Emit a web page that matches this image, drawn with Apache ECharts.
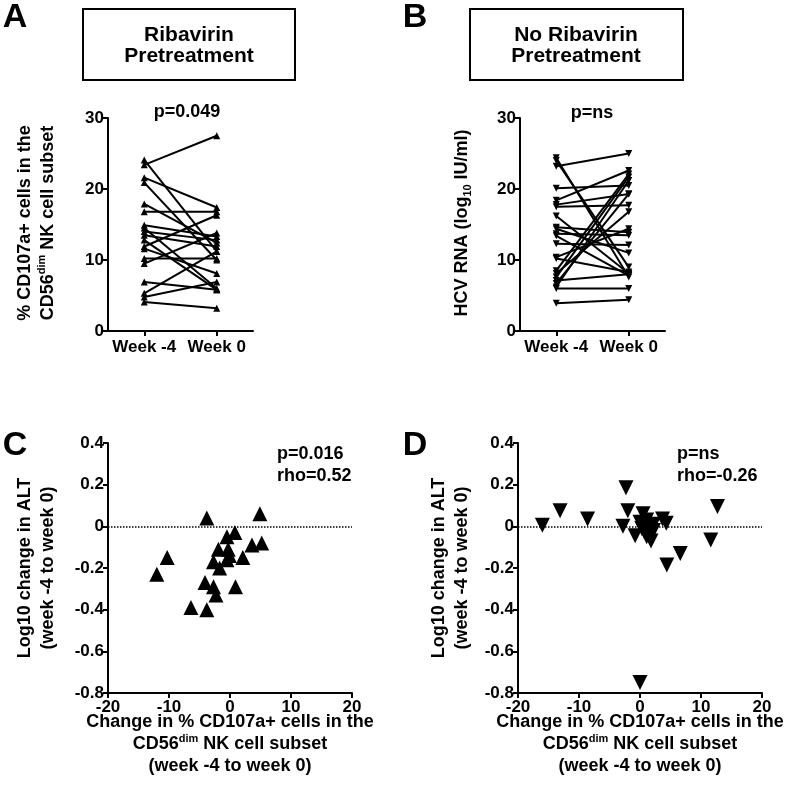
<!DOCTYPE html>
<html><head><meta charset="utf-8">
<script src="https://cdn.jsdelivr.net/npm/echarts@6/dist/echarts.min.js"></script>
<style>html,body{margin:0;padding:0;background:#fff}#c{width:800px;height:805px}</style>
</head><body><div id="c"></div>
<script>
// ---- data ----
const weekLabels = ['Week -4', 'Week 0'];
const ribaWeekM4 = [23.4, 24.1, 21.6, 20.9, 17.9, 16.8, 14.9, 14.5, 14.0, 13.5, 12.8, 11.9, 11.6, 10.2, 9.5, 6.9, 5.3, 4.8, 4.1];
const ribaWeek0  = [27.5, 11.2, 17.4, 10.0, 12.4, 16.8, 13.3, 6.0, 12.8, 11.9, 5.8, 16.3, 8.1, 10.2, 13.8, 5.8, 11.2, 6.9, 3.2];
const noRibaWeekM4 = [24.4, 24.0, 23.2, 20.1, 18.4, 17.8, 17.5, 16.2, 14.6, 14.4, 13.7, 13.4, 12.3, 10.4, 10.2, 8.5, 8.1, 7.6, 7.1, 6.7, 6.2, 6.0, 3.9];
const noRibaWeek0  = [7.6, 9.0, 25.0, 20.5, 22.6, 19.3, 17.7, 8.1, 13.9, 11.0, 13.5, 7.8, 12.1, 14.4, 8.3, 22.1, 16.8, 21.7, 8.0, 19.3, 21.2, 6.0, 4.4];
const cChange = [-3.8, 4.9, 0.8, -0.5, 3.6, 5.2, -1.9, -0.3, -0.1, -0.5, 2.1, -2.7, -1.7, -4.1, -2.7, -2.3, 0.9, -6.4, -3.8, -12.0, -10.3];
const cALT    = [0.04, 0.06, -0.03, -0.05, -0.09, -0.08, -0.11, -0.11, -0.14, -0.16, -0.15, -0.17, -0.2, -0.27, -0.29, -0.33, -0.29, -0.39, -0.40, -0.23, -0.15];
const dChange = [-16.0, -13.1, -8.6, -2.3, -2.0, -2.8, -0.8, 0.5, 0.0, 1.1, 0.3, 2.2, 1.1, 1.8, 2.2, 3.7, 4.3, 6.6, 4.4, 11.6, 12.7, 0.0, 1.6, 0.7];
const dALT    = [0.005, 0.075, 0.035, 0.185, 0.075, 0.0, -0.045, 0.06, 0.02, 0.03, -0.01, 0.01, -0.05, -0.07, -0.02, 0.035, 0.015, -0.13, -0.185, -0.065, 0.095, -0.75, 0.0, -0.025];
const pairTicks = [0, 10, 20, 30];

// ---- chart ----
const FF = 'Liberation Sans, Arial, sans-serif';
const chart = echarts.init(document.getElementById('c'), null, {renderer: 'canvas'});
const axLine = {show: true, onZero: false, lineStyle: {color: '#000', width: 2}};
const axTick = {show: true, length: 5, lineStyle: {color: '#000', width: 2}};
const axLab = {color: '#000', fontSize: 17, fontWeight: 'bold', fontFamily: FF};

function catX(gi) {
  return {type: 'category', gridIndex: gi, data: weekLabels, boundaryGap: true,
    axisLine: axLine, axisTick: Object.assign({alignWithLabel: true, interval: 0}, axTick),
    axisLabel: Object.assign({margin: 8, interval: 0}, axLab), splitLine: {show: false}};
}
function valY(gi, min, max, interval, fmt) {
  return {type: 'value', gridIndex: gi, min: min, max: max, interval: interval,
    axisLine: axLine, axisTick: axTick,
    axisLabel: Object.assign({margin: 4, formatter: fmt}, axLab), splitLine: {show: false}};
}
function valX(gi) {
  return {type: 'value', gridIndex: gi, min: -20, max: 20, interval: 10,
    axisLine: axLine, axisTick: axTick,
    axisLabel: Object.assign({margin: 6}, axLab), splitLine: {show: false}};
}
const altFmt = v => Math.abs(v) < 1e-9 ? '0' : v.toFixed(1);

const series = [];
ribaWeekM4.forEach((v, i) => {
  series.push({type: 'line', xAxisIndex: 0, yAxisIndex: 0, data: [v, ribaWeek0[i]],
    symbol: 'triangle', symbolSize: 7, lineStyle: {color: '#000', width: 2},
    itemStyle: {color: '#000', opacity: 1}, silent: true, animation: false});
});
noRibaWeekM4.forEach((v, i) => {
  series.push({type: 'line', xAxisIndex: 1, yAxisIndex: 1, data: [v, noRibaWeek0[i]],
    symbol: 'triangle', symbolRotate: 180, symbolSize: 7, lineStyle: {color: '#000', width: 2},
    itemStyle: {color: '#000', opacity: 1}, silent: true, animation: false});
});
const dotted = {silent: true, symbol: 'none', label: {show: false},
  lineStyle: {type: 'dotted', color: '#000', width: 1.5}, data: [{yAxis: 0}]};
series.push({type: 'scatter', xAxisIndex: 2, yAxisIndex: 2,
  data: cChange.map((x, i) => [x, cALT[i]]), symbol: 'triangle', symbolSize: 15,
  itemStyle: {color: '#000', opacity: 1}, markLine: dotted, animation: false});
series.push({type: 'scatter', xAxisIndex: 3, yAxisIndex: 3,
  data: dChange.map((x, i) => [x, dALT[i]]), symbol: 'triangle', symbolRotate: 180, symbolSize: 15,
  itemStyle: {color: '#000', opacity: 1}, markLine: dotted, animation: false});

function txt(x, y, text, size, extra) {
  return Object.assign({type: 'text', x: x, y: y, style: {text: text,
    font: 'bold ' + size + 'px ' + FF, fill: '#000', align: 'center', verticalAlign: 'middle',
    textAlign: 'center', textVerticalAlign: 'middle'}}, extra || {});
}
const richStyles = {
  n: {fontSize: 18, fontWeight: 'bold', fontFamily: FF, color: '#000'},
  sup: {fontSize: 11, fontWeight: 'bold', fontFamily: FF, color: '#000', verticalAlign: 'top'},
  sub: {fontSize: 11, fontWeight: 'bold', fontFamily: FF, color: '#000', verticalAlign: 'bottom'}
};
function rtxt(x, y, text, rot, lh) {
  return {type: 'text', x: x, y: y, rotation: rot || 0, style: {text: text,
    font: 'bold 18px ' + FF, fill: '#000', align: 'center', verticalAlign: 'middle',
    textAlign: 'center', textVerticalAlign: 'middle', lineHeight: lh || 23, rich: richStyles}};
}

const graphic = [
  txt(15, 18, 'A', 34), txt(415, 18, 'B', 34), txt(15, 446, 'C', 34), txt(415, 446, 'D', 34),
  {type: 'rect', shape: {x: 83, y: 9, width: 212, height: 71}, style: {fill: 'none', stroke: '#000', lineWidth: 2}},
  {type: 'rect', shape: {x: 470, y: 9, width: 213, height: 71}, style: {fill: 'none', stroke: '#000', lineWidth: 2}},
  txt(189, 46, 'Ribavirin\nPretreatment', 21),
  txt(576, 46, 'No Ribavirin\nPretreatment', 21),
  txt(187, 112, 'p=0.049', 18), txt(592, 113, 'p=ns', 18),
  {type: 'text', x: 277, y: 443, style: {text: 'p=0.016\nrho=0.52', font: 'bold 18px ' + FF, fill: '#000',
    align: 'left', textAlign: 'left', verticalAlign: 'top', textVerticalAlign: 'top', lineHeight: 22}},
  {type: 'text', x: 677, y: 443, style: {text: 'p=ns\nrho=-0.26', font: 'bold 18px ' + FF, fill: '#000',
    align: 'left', textAlign: 'left', verticalAlign: 'top', textVerticalAlign: 'top', lineHeight: 22}},
  rtxt(36.5, 223, '{n|% CD107a+ cells in the}\n{n|CD56}{sup|dim}{n| NK cell subset}', Math.PI / 2),
  rtxt(462, 223, '{n|HCV RNA (log}{sub|10}{n| IU/ml)}', Math.PI / 2),
  rtxt(36.5, 568, '{n|Log10 change in ALT}\n{n|(week -4 to week 0)}', Math.PI / 2),
  rtxt(451, 568, '{n|Log10 change in ALT}\n{n|(week -4 to week 0)}', Math.PI / 2),
  rtxt(230, 744, '{n|Change in % CD107a+ cells in the}\n{n|CD56}{sup|dim}{n| NK cell subset}\n{n|(week -4 to week 0)}', 0, 22),
  rtxt(640, 744, '{n|Change in % CD107a+ cells in the}\n{n|CD56}{sup|dim}{n| NK cell subset}\n{n|(week -4 to week 0)}', 0, 22)
];

chart.setOption({
  backgroundColor: '#fff',
  animation: false,
  grid: [
    {left: 108, top: 118, width: 145, height: 213},
    {left: 520, top: 118, width: 145, height: 213},
    {left: 108, top: 443, width: 244, height: 250},
    {left: 518, top: 443, width: 244, height: 250}
  ],
  xAxis: [catX(0), catX(1), valX(2), valX(3)],
  yAxis: [valY(0, pairTicks[0], pairTicks[3], 10), valY(1, pairTicks[0], pairTicks[3], 10),
          valY(2, -0.8, 0.4, 0.2, altFmt), valY(3, -0.8, 0.4, 0.2, altFmt)],
  series: series,
  graphic: graphic
});
</script></body></html>
